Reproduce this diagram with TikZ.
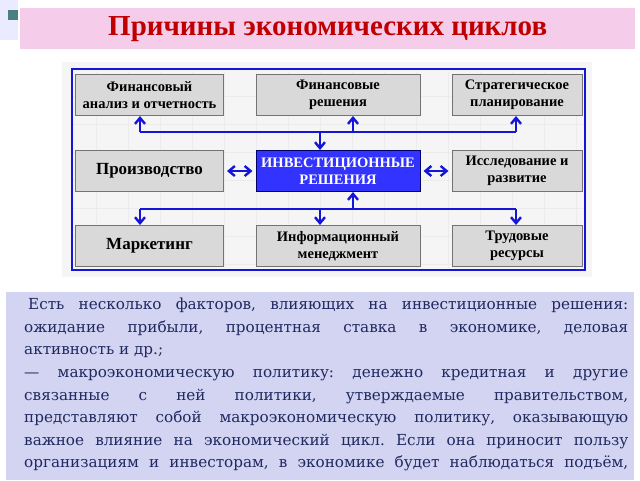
\documentclass[tikz,border=0pt]{standalone}
\usepackage{fontspec}
\setmainfont{DejaVu Serif}
\newfontfamily\boxfont{Liberation Serif}
\usetikzlibrary{arrows.meta}
\definecolor{titlepink}{HTML}{F5CCEA}
\definecolor{titlered}{HTML}{C00000}
\definecolor{linkblue}{HTML}{1515D5}
\definecolor{panelblue}{HTML}{D3D3F2}
\definecolor{textblue}{HTML}{1F2A60}
\frenchspacing
\begin{document}
\begin{tikzpicture}[x=1pt, y=-1pt,
    box/.style={draw=gray!90!black, fill=gray!30, line width=1pt, minimum width=#1, minimum height=41pt,
      inner sep=1pt, align=center, font=\boxfont\bfseries\fontsize{14.5}{17}\selectfont},
    box/.default=148pt,
    link/.style={draw=linkblue, line width=2.4pt, -{Straight Barb[length=6pt,width=10pt]}},
    both/.style={link, {Straight Barb[length=6pt,width=10pt]}-{Straight Barb[length=6pt,width=10pt]}}]
  \useasboundingbox (0,0) rectangle (640,480);
  % corner marks and title
  \fill[blue!8] (0,0) rectangle (18,40);
  \fill[gray!60!teal] (8,10) rectangle (18,20);
  \node[fill=titlepink, minimum width=615pt, minimum height=41pt, anchor=north west,
    text=titlered, font=\boxfont\bfseries\fontsize{29}{32}\selectfont] (title) at (20,8) {Причины экономических циклов};
  % diagram frame
  \fill[gray!8] (62,62) rectangle (592,277);
  \draw[gray!15] \foreach \gx in {96,128,...,576} {(\gx,71) -- (\gx,268)}
                 \foreach \gy in {96,124,...,264} {(73,\gy) -- (584,\gy)};
  \draw[linkblue, line width=1.6pt] (72,69) rectangle (585,270);
  % boxes
  \node[box] (fa) at (149.5,95) {Финансовый\\анализ и отчетность};
  \node[box=164pt] (fr) at (338,95) {Финансовые\\решения};
  \node[box=130pt] (sp) at (517,95) {Стратегическое\\планирование};
  \node[box, font=\boxfont\bfseries\fontsize{17}{20}\selectfont] (pr) at (149.5,171) {Производство};
  \node[box=164pt, fill=blue!80, draw=blue!40!black, text=white] (inv) at (338,171) {ИНВЕСТИЦИОННЫЕ\\РЕШЕНИЯ};
  \node[box=130pt] (ir) at (517,171) {Исследование и\\развитие};
  \node[box, font=\boxfont\bfseries\fontsize{17}{20}\selectfont] (mk) at (149.5,246) {Маркетинг};
  \node[box=164pt] (im) at (338,246) {Информационный\\менеджмент};
  \node[box=130pt] (tr) at (517,246) {Трудовые\\ресурсы};
  % junctions
  \coordinate (tl) at (140,132); \coordinate (tm) at (353,132); \coordinate (tr0) at (516,132);
  \coordinate (td) at (320,132);
  \coordinate (bl) at (140,209); \coordinate (bm) at (320,209); \coordinate (br) at (516,209);
  \coordinate (bu) at (353,209);
  % connectors
  \draw[linkblue, line width=2.4pt] (tl) -- (tr0) (bl) -- (br);
  \draw[link] (tl) -- (tl |- fa.south);
  \draw[link] (tm) -- (tm |- fr.south);
  \draw[link] (tr0) -- (tr0 |- sp.south);
  \draw[link] (td) -- (td |- inv.north);
  \draw[link] (bu) -- (bu |- inv.south);
  \draw[link] (bl) -- (bl |- mk.north);
  \draw[link] (bm) -- (bm |- im.north);
  \draw[link] (br) -- (br |- tr.north);
  \draw[both, shorten <=3pt, shorten >=3pt] (pr.east) -- (inv.west);
  \draw[both, shorten <=3pt, shorten >=3pt] (inv.east) -- (ir.west);
  % text panel
  \fill[panelblue] (6,292) rectangle (634,480);
  \node[anchor=north west, text width=604pt, align=justify, inner sep=0pt, text=textblue,
    font=\fontsize{15.2}{22.6}\selectfont] (txt) at (24,298) {\hyphenpenalty=10000\exhyphenpenalty=10000
    \hspace*{4pt}Есть несколько факторов, влияющих на инвестиционные решения:\linebreak
    ожидание прибыли, процентная ставка в экономике, деловая\linebreak
    активность и др.;\\
    — макроэкономическую политику: денежно кредитная и другие\linebreak
    связанные с ней политики, утверждаемые правительством,\linebreak
    представляют собой макроэкономическую политику, оказывающую\linebreak
    важное влияние на экономический цикл. Если она приносит пользу\linebreak
    организациям и инвесторам, в экономике будет наблюдаться подъём,\linebreak};
\end{tikzpicture}
\end{document}
